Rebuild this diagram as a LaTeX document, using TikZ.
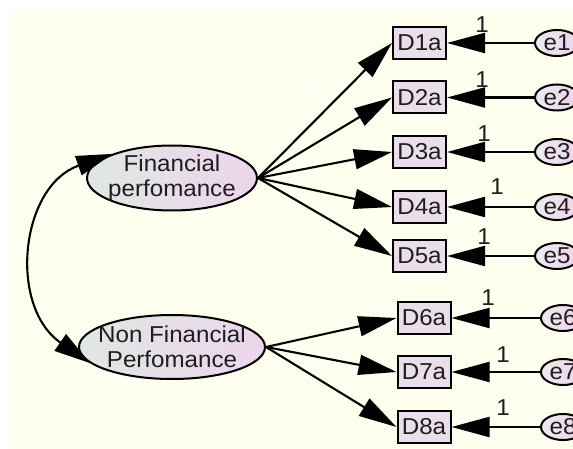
\documentclass[tikz,border=0pt]{standalone}
\usepackage{fontspec}
\setmainfont{Liberation Sans}[FakeStretch=1.05]
\usetikzlibrary{arrows.meta,shapes.geometric}

\definecolor{paper}{RGB}{255,255,240}
\definecolor{latleft}{RGB}{224,231,227}
\definecolor{latright}{RGB}{237,213,236}
\definecolor{obsfill}{RGB}{234,222,234}
\definecolor{errleft}{RGB}{238,234,238}
\definecolor{errright}{RGB}{237,211,236}
\definecolor{ink}{RGB}{30,30,30}

\begin{document}
\begin{tikzpicture}[x=1pt,y=-1pt,
  every node/.style={font=\fontsize{23}{25}\selectfont, text=ink},
  latent/.style={ellipse, draw=black, line width=2pt,
    left color=latleft, right color=latright, inner sep=0pt},
  lattext/.style={align=center, inner sep=0pt},
  observed/.style={rectangle, draw=black, line width=2pt, fill=obsfill,
    minimum width=53pt, minimum height=32pt, inner sep=0pt},
  errvar/.style={ellipse, draw=black, line width=2pt,
    left color=errleft, right color=errright,
    minimum width=44pt, minimum height=26pt, inner sep=0pt},
  regr/.style={line width=2.1pt, -{Triangle[length=38pt,width=20pt]}},
  cov/.style={line width=2.1pt,
    {Triangle[length=36pt,width=20pt]}-{Triangle[length=36pt,width=20pt]}},
  weight/.style={inner sep=0pt},
  hidden/.style={inner sep=0pt, text=white}
]
% canvas
\useasboundingbox (0,0) rectangle (573,449);
\clip (0,0) rectangle (573,449);
\fill[white] (0,0) rectangle (573,449);
\fill[paper] (12,7) rectangle (573,449);

% latent variables (fixed outline, caption laid on top)
\node[latent, minimum width=170pt, minimum height=65pt] (F) at (172,178) {};
\node[lattext] (Ft) at (F.center) {Financial\\perfomance};
\node[latent, minimum width=186pt, minimum height=64pt] (NF) at (172,347) {};
\node[lattext] (NFt) at (NF.center) {Non Financial\\Perfomance};

% indicators
\node[observed] (D1a) at (419.5,43)  {D1a};
\node[observed] (D2a) at (419.5,97.5){D2a};
\node[observed] (D3a) at (419.5,152) {D3a};
\node[observed] (D4a) at (419.5,207) {D4a};
\node[observed] (D5a) at (419.5,256) {D5a};
\node[observed] (D6a) at (424,318)   {D6a};
\node[observed] (D7a) at (424,372)   {D7a};
\node[observed] (D8a) at (424,427)   {D8a};

% error terms
\node[errvar] (e1) at (557,43)   {e1};
\node[errvar] (e2) at (557,97.5) {e2};
\node[errvar] (e3) at (557,152)  {e3};
\node[errvar] (e4) at (557,207)  {e4};
\node[errvar] (e5) at (557,256)  {e5};
\node[errvar] (e6) at (563,318)  {e6};
\node[errvar] (e7) at (563,372)  {e7};
\node[errvar] (e8) at (563,427)  {e8};

% loadings
\foreach \d in {D1a,D2a,D3a,D4a,D5a}
  \draw[regr] (F.east) -- (\d.west);
\foreach \d in {D6a,D7a,D8a}
  \draw[regr] (NF.east) -- (\d.west);

% error paths
\foreach \i in {1,...,8}
  \draw[regr] (e\i) -- (D\i a);

% covariance between the factors
\draw[cov] (F.158) .. controls +(-92,32) and +(-82,-57) .. (NF.191);

% fixed weights
\node[weight] (w1) at (482,25)  {1};
\node[weight] (w2) at (482,80)  {1};
\node[weight] (w3) at (484,134) {1};
\node[weight] (w4) at (497,187) {1};
\node[weight] (w5) at (484,237) {1};
\node[weight] (w6) at (488,298) {1};
\node[weight] (w7) at (503,355) {1};
\node[weight] (w8) at (503,408) {1};

% white weight labels
\node[hidden] (h1) at (312,88)  {1};
\node[hidden] (h2) at (323,313) {1};
\end{tikzpicture}
\end{document}
